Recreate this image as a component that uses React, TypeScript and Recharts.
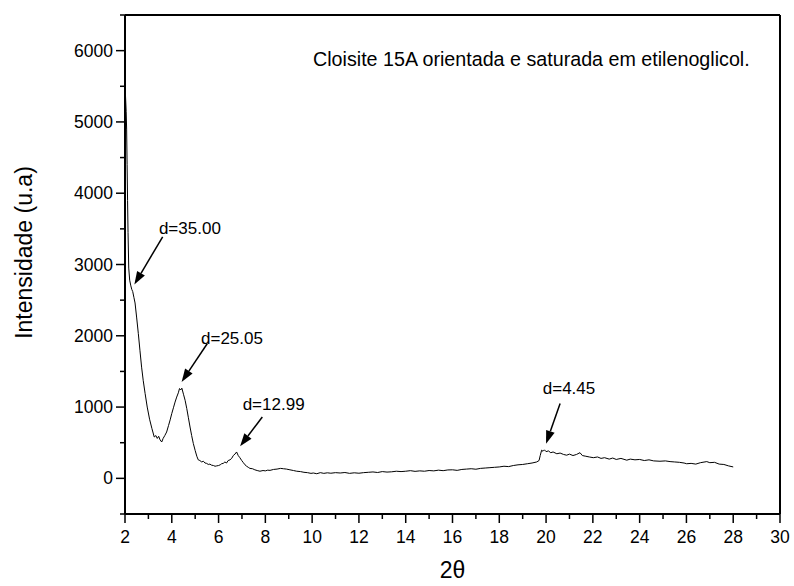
import React from 'react';
import { LineChart, Line, XAxis, YAxis, ReferenceLine, ReferenceDot } from 'recharts';

// difratograma: 2theta x intensidade
const twoTheta = [
  2.02, 2.05, 2.07, 2.09, 2.11, 2.13, 2.16, 2.2, 2.25, 2.29, 2.33, 2.38, 2.43, 2.5, 2.57, 2.64, 2.71, 2.78, 2.86, 2.95,
  3.05, 3.15, 3.25, 3.32, 3.38, 3.44, 3.5, 3.57, 3.63, 3.7, 3.78, 3.86, 3.93, 4.0, 4.07, 4.14, 4.21, 4.28, 4.33, 4.38,
  4.43, 4.5, 4.57, 4.64, 4.71, 4.78, 4.85, 4.92, 5.0, 5.07, 5.13, 5.2, 5.28, 5.35, 5.42, 5.49, 5.56, 5.63, 5.7, 5.78,
  5.85, 5.92, 6.0, 6.07, 6.13, 6.2, 6.27, 6.34, 6.41, 6.49, 6.56, 6.63, 6.7, 6.77, 6.84, 6.91, 6.99, 7.06, 7.13, 7.2,
  7.27, 7.34, 7.45, 7.55, 7.65, 7.77, 7.9, 8.0, 8.1, 8.2, 8.35, 8.5, 8.65, 8.77, 8.9, 9.05, 9.2, 9.34, 9.5, 9.65,
  9.8, 9.95, 10.05, 10.2, 10.35, 10.5, 10.65, 10.8, 11.0, 11.2, 11.4, 11.6, 11.8, 12.0, 12.2, 12.4, 12.6, 12.8, 13.0, 13.2,
  13.4, 13.6, 13.8, 14.0, 14.2, 14.4, 14.6, 14.8, 15.0, 15.2, 15.4, 15.6, 15.8, 16.0, 16.2, 16.4, 16.6, 16.8, 17.0, 17.2,
  17.4, 17.6, 17.8, 18.0, 18.2, 18.4, 18.6, 18.8, 19.0, 19.2, 19.4, 19.6, 19.7, 19.75, 19.81, 19.87, 19.93, 20.0, 20.1, 20.2,
  20.3, 20.46, 20.6, 20.75, 20.88, 21.0, 21.15, 21.3, 21.45, 21.55, 21.7, 21.85, 22.02, 22.2, 22.35, 22.5, 22.7, 22.85, 23.0, 23.2,
  23.45, 23.6, 23.8, 24.0, 24.2, 24.4, 24.6, 24.87, 25.1, 25.3, 25.5, 25.7, 25.9, 26.01, 26.2, 26.4, 26.6, 26.87, 27.0, 27.2,
  27.4, 27.6, 27.8, 28.0,
];
const intensity = [
  5380, 5150, 4900, 4400, 3900, 3450, 2950, 2780, 2700, 2650, 2620, 2540, 2460, 2250, 2030, 1790, 1560, 1370, 1190, 1000,
  830, 700, 580, 600, 560, 590, 540, 510, 560, 600, 650, 740, 820, 910, 990, 1070, 1140, 1200, 1260, 1240,
  1265, 1180, 1095, 980, 850, 720, 600, 490, 390, 310, 260, 250, 230, 240, 215, 210, 195, 200, 185, 180,
  170, 175, 180, 190, 205, 210, 230, 215, 250, 260, 280, 320, 340, 370, 320, 290, 250, 220, 190, 170,
  155, 140, 135, 120, 110, 100, 110, 105, 115, 112, 125, 130, 140, 135, 130, 120, 110, 100, 95, 85,
  80, 70, 75, 65, 80, 70, 78, 72, 80, 75, 82, 70, 78, 72, 80, 85, 90, 82, 95, 88,
  92, 100, 95, 100, 108, 98, 105, 100, 110, 105, 115, 108, 118, 120, 112, 125, 130, 135, 128, 140,
  145, 150, 155, 160, 170, 165, 180, 190, 195, 205, 215, 230, 250, 320, 395, 380, 400, 375, 385, 360,
  370, 345, 355, 335, 325, 340, 320, 335, 360, 320, 310, 300, 290, 300, 280, 290, 270, 285, 265, 280,
  255, 270, 260, 265, 250, 260, 245, 240, 245, 235, 230, 225, 215, 205, 210, 200, 220, 235, 220, 225,
  200, 195, 175, 160,
];

const xTicks = [2, 3, 4, 5, 6, 7, 8, 9, 10, 11, 12, 13, 14, 15, 16, 17, 18, 19, 20, 21, 22, 23, 24, 25, 26, 27, 28, 29, 30];
const yTicks = [-500, 0, 500, 1000, 1500, 2000, 2500, 3000, 3500, 4000, 4500, 5000, 5500, 6000, 6500];

// anotações (picos)
const peakLabels = ['d=35.00', 'd=25.05', 'd=12.99', 'd=4.45'];
const labelX = [3.45, 5.25, 7.03, 19.86];
const labelY = [3427, 1882, 955, 1190];
const arrowFromX = [3.61, 5.52, 7.87, 20.6];
const arrowFromY = [3389, 1892, 861, 1049];
const arrowToX = [2.4, 4.42, 6.92, 20.0];
const arrowToY = [2720, 1353, 449, 487];

const data = twoTheta.map((t, i) => ({ t, v: intensity[i] }));

const font = 'Liberation Sans, Arial, sans-serif';

const XTick = (props: any) => {
  const { x, y, payload } = props;
  const major = payload.value % 2 === 0;
  return (
    <g>
      <line x1={x} y1={y} x2={x} y2={y + (major ? 9 : 5)} stroke="#000" strokeWidth={1.5} />
      {major && (
        <text x={x} y={y + 29} textAnchor="middle" fontSize={17.5} fontFamily={font} fill="#000">
          {payload.value}
        </text>
      )}
    </g>
  );
};

const YTick = (props: any) => {
  const { x, y, payload } = props;
  const v = payload.value;
  const major = v % 1000 === 0 && v >= 0 && v <= 6000;
  return (
    <g>
      <line x1={x} y1={y} x2={x - (major ? 9 : 5)} y2={y} stroke="#000" strokeWidth={1.5} />
      {major && (
        <text x={x - 12} y={y + 6} textAnchor="end" fontSize={17.5} fontFamily={font} fill="#000">
          {v}
        </text>
      )}
    </g>
  );
};

const Arrow = (p: any) => {
  const { x1, y1, x2, y2 } = p;
  const dx = x2 - x1;
  const dy = y2 - y1;
  const len = Math.hypot(dx, dy) || 1;
  const ux = dx / len;
  const uy = dy / len;
  const hl = 13;
  const hw = 4.5;
  const bx = x2 - ux * hl;
  const by = y2 - uy * hl;
  const pts = `${x2},${y2} ${bx - uy * hw},${by + ux * hw} ${bx + uy * hw},${by - ux * hw}`;
  return (
    <g>
      <line x1={x1} y1={y1} x2={bx} y2={by} stroke="#000" strokeWidth={1.5} />
      <polygon points={pts} fill="#000" />
    </g>
  );
};

export default function App() {
  return (
    <div style={{ position: 'absolute', left: 0, top: 0, background: '#fff' }}>
      <LineChart width={794} height={586} data={data} margin={{ top: 15, right: 14, bottom: 0, left: 0 }}>
        <XAxis
          dataKey="t"
          type="number"
          domain={[2, 30]}
          ticks={xTicks}
          interval={0}
          allowDataOverflow
          height={72}
          tickSize={0}
          tickMargin={0}
          tickLine={false}
          axisLine={{ stroke: '#000', strokeWidth: 2 }}
          tick={<XTick />}
          label={{
            content: (p: any) => {
              const vb = p.viewBox;
              return (
                <text x={vb.x + vb.width / 2} y={vb.y + 64} textAnchor="middle" fontSize={23} fontFamily={font} fill="#000">
                  2θ
                </text>
              );
            },
          }}
        />
        <YAxis
          type="number"
          domain={[-500, 6500]}
          ticks={yTicks}
          interval={0}
          allowDataOverflow
          width={125}
          tickSize={0}
          tickMargin={0}
          tickLine={false}
          axisLine={{ stroke: '#000', strokeWidth: 2 }}
          tick={<YTick />}
          label={{
            content: (p: any) => {
              const vb = p.viewBox;
              const cy = vb.y + vb.height / 2 - 12;
              return (
                <text
                  x={32}
                  y={cy}
                  transform={`rotate(-90 32 ${cy})`}
                  textAnchor="middle"
                  fontSize={23}
                  fontFamily={font}
                  fill="#000"
                >
                  Intensidade (u.a)
                </text>
              );
            },
          }}
        />
        <ReferenceLine
          y={6500}
          stroke="#000"
          strokeWidth={2}
          label={{
            content: (p: any) => {
              const vb = p.viewBox;
              return (
                <text x={vb.x + 188} y={vb.y + 51} fontSize={19.7} fontFamily={font} fill="#000">
                  Cloisite 15A orientada e saturada em etilenoglicol.
                </text>
              );
            },
          }}
        />
        <ReferenceLine x={30} stroke="#000" strokeWidth={2} />
        <Line type="linear" dataKey="v" stroke="#000" strokeWidth={1} dot={false} isAnimationActive={false} />
        {peakLabels.map((lab, i) => (
          <ReferenceLine
            key={'a' + i}
            segment={[
              { x: arrowFromX[i], y: arrowFromY[i] },
              { x: arrowToX[i], y: arrowToY[i] },
            ]}
            shape={Arrow}
          />
        ))}
        {peakLabels.map((lab, i) => (
          <ReferenceDot
            key={'l' + i}
            x={labelX[i]}
            y={labelY[i]}
            r={0}
            shape={(p: any) => (
              <text x={p.cx} y={p.cy} fontSize={17} fontFamily={font} fill="#000">
                {lab}
              </text>
            )}
          />
        ))}
      </LineChart>
    </div>
  );
}
